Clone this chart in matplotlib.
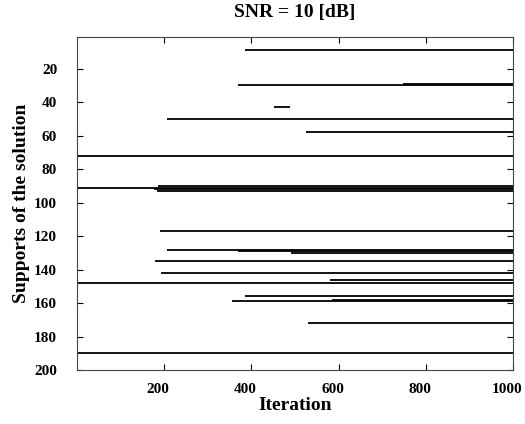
import matplotlib
matplotlib.use("Agg")
import matplotlib.pyplot as plt
import matplotlib.transforms as mtransforms

# support index, iteration where it enters, iteration where it leaves
supports = [9, 29, 30, 43, 50, 58, 72, 90, 91, 92, 93, 117, 128, 129, 130,
            135, 142, 146, 148, 156, 158, 159, 172, 190]
starts = [385, 748, 370, 452, 206, 525, 1, 186, 1, 176, 184, 191, 206, 370, 490,
          180, 192, 581, 1, 385, 584, 355, 530, 1]
ends = [1000, 1000, 1000, 488, 1000, 1000, 1000, 1000, 1000, 1000, 1000, 1000, 1000, 1000, 1000,
        1000, 1000, 1000, 1000, 1000, 1000, 1000, 1000, 1000]

xticks = [200, 400, 600, 800, 1000]
yticks = [20, 40, 60, 80, 100, 120, 140, 160, 180, 200]

plt.rcParams['font.family'] = ['Liberation Serif', 'DejaVu Serif']
plt.rcParams['font.weight'] = 'bold'

fig = plt.figure(figsize=(5.25, 4.24), dpi=100)
ax = fig.add_axes([0.146, 0.127, 0.832, 0.786])

ax.hlines(supports, starts, ends, colors='k', lw=1.3)

ax.set_xlim(0, 1000)
ax.set_ylim(200, 1)
ax.set_xticks(xticks)
ax.set_yticks(yticks)
ax.tick_params(direction='in', top=True, right=True, labelsize=11, length=4, width=0.8)
ax.tick_params(axis='x', pad=9)
ax.tick_params(axis='y', pad=14)
# x tick labels sit a little left of their ticks in the original
shift = mtransforms.ScaledTranslation(-6 / 100, 0, fig.dpi_scale_trans)
for lab in ax.get_xticklabels():
    lab.set_transform(lab.get_transform() + shift)
for lab in ax.get_xticklabels() + ax.get_yticklabels():
    lab.set_fontweight('bold')
for sp in ax.spines.values():
    sp.set_linewidth(0.8)
    sp.set_color('#444444')

ax.set_xlabel("Iteration", fontsize=14, fontweight='bold', labelpad=1)
ax.set_ylabel("Supports of the solution", fontsize=14, fontweight='bold', labelpad=3)
ax.set_title("SNR = 10 [dB]", fontsize=14, fontweight='bold', pad=14)

fig.savefig("out.png", dpi=100)
